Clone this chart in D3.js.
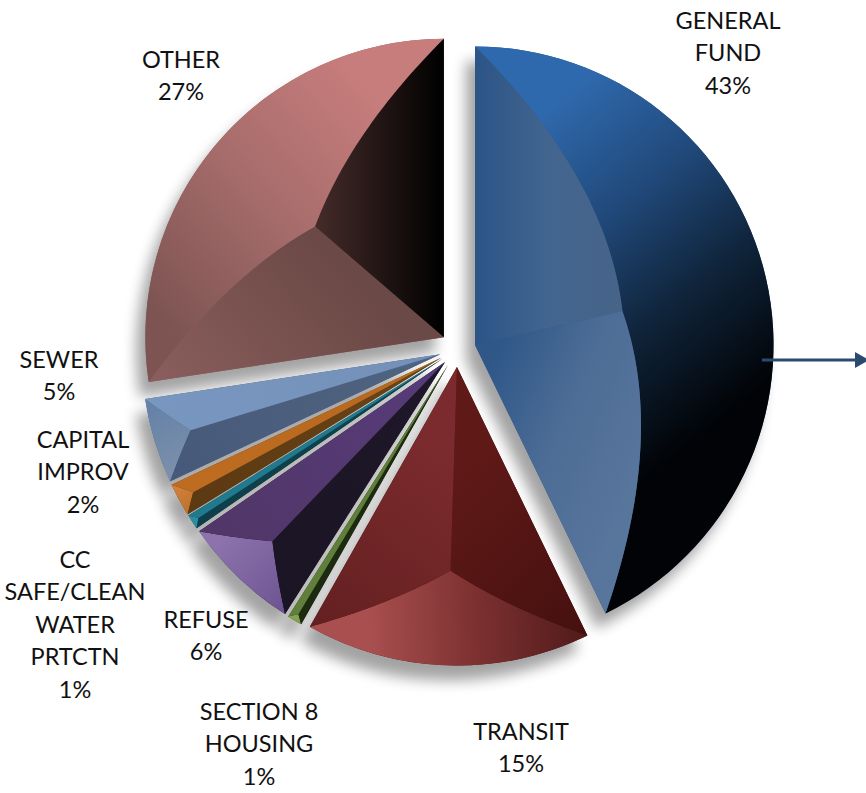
<!DOCTYPE html>
<html>
<head>
<meta charset="utf-8">
<title>Revenue by fund</title>
<script src="https://cdn.jsdelivr.net/npm/d3@7/dist/d3.min.js"></script>
<style>
  html, body { margin: 0; padding: 0; background: #fff; overflow: hidden; }
  svg { display: block; }
  text { font-family: Lato, "Open Sans", sans-serif; fill: #111; }
</style>
</head>
<body>
<svg id="chart" width="866" height="793"></svg>
<script>
// Fund shares, clockwise from twelve o'clock. Labels show them rounded to a whole percent.
const categories = ["General Fund", "Transit", "Section 8 Housing", "Refuse",
                    "CC Safe/Clean Water Prtctn", "Capital Improv", "Sewer", "Other"];
const shares = [42.8, 15.4, 0.8, 6.4, 0.8, 1.8, 4.6, 27.4];
const labelLines = [
  ["GENERAL", "FUND"], ["TRANSIT"], ["SECTION 8", "HOUSING"], ["REFUSE"],
  ["CC", "SAFE/CLEAN", "WATER", "PRTCTN"], ["CAPITAL", "IMPROV"], ["SEWER"], ["OTHER"]
];

// Layout
const width = 866, height = 793;
const center = { x: 457.5, y: 349 };
const radius = 298.5;
const explode = 18;
const lineHeight = 32.4;
const labelAnchors = [
  [728, 29], [521, 740], [259, 720], [206, 628], [75, 568], [83, 448], [59, 368], [181, 68]
];

// Facet paints per slice: [x1, y1, x2, y2, [colours...]] for the edge-a, edge-b and rim facets.
const facetPaints = [
  { a: [475, 200, 620, 200, ["#2c5486", "#426590", "#476488"]],
    b: [475, 400, 640, 470, ["#2f5788", "#4d6d96", "#58759c"]],
    rim: [545, 110, 765, 385, ["#2f69ad", "#214a7c", "#0f2339", "#010306"]] },
  { a: [590, 630, 452, 480, ["#45110f", "#5f1917"]],
    b: [450, 450, 320, 620, ["#7b2b2d", "#652021"]],
    rim: [370, 650, 585, 640, ["#a94f4f", "#7c3030", "#521b1b"]] },
  { a: [300, 620, 330, 640, ["#1c2a10", "#1f3012"]],
    b: [300, 610, 320, 620, ["#607f3a", "#5d7d38"]],
    rim: [290, 620, 305, 630, ["#86a552", "#789a48"]] },
  { a: [290, 610, 420, 400, ["#1a1424", "#1d1729"]],
    b: [210, 530, 420, 370, ["#513668", "#573b79"]],
    rim: [220, 540, 290, 610, ["#8d73ad", "#6c5290"]] },
  { a: [190, 520, 420, 370, ["#0f3e4a", "#12424f"]],
    b: [190, 520, 420, 370, ["#1f7a8e", "#1f7a8e"]],
    rim: [190, 520, 205, 532, ["#2b8da2", "#2b8da2"]] },
  { a: [190, 520, 420, 370, ["#5b3912", "#6a4318"]],
    b: [175, 490, 420, 370, ["#bd6c20", "#b8691f"]],
    rim: [175, 490, 195, 515, ["#cf7f38", "#b96f2a"]] },
  { a: [170, 480, 420, 370, ["#47597a", "#4f6480"]],
    b: [150, 410, 430, 360, ["#7897c0", "#7490b8"]],
    rim: [150, 410, 190, 480, ["#6682a8", "#7f93ab"]] },
  { a: [150, 390, 316, 240, ["#8b5f5d", "#6b4946"]],
    b: [320, 200, 444, 200, ["#422a28", "#000000"]],
    rim: [400, 120, 170, 330, ["#c77d7c", "#a56c6b", "#7d5452"]] }
];

const svg = d3.select("#chart");
const defs = svg.append("defs");

// Soft grey cast shadow thrown down and to the left of every slice
const blur = defs.append("filter").attr("id", "castShadow")
  .attr("x", "-30%").attr("y", "-30%").attr("width", "160%").attr("height", "160%");
blur.append("feGaussianBlur").attr("stdDeviation", 7);

const pie = d3.pie().value(d => d).sort(null);
const slices = pie(shares).map((d, i) => {
  const mid = (d.startAngle + d.endAngle) / 2;
  return {
    ...d, i, mid,
    ax: center.x + explode * Math.sin(mid),
    ay: center.y - explode * Math.cos(mid)
  };
});

const arc = d3.arc().innerRadius(0).outerRadius(radius);

// The ridge between a straight edge and the rim sits equally far from both
function ridgePoints(s, from, to) {
  const n = 48;
  return d3.range(n + 1).map(k => {
    const t = from + (to - from) * k / n;
    const phi = Math.min(t - s.startAngle, s.endAngle - t);
    return polar(s, t, radius / (1 + Math.sin(phi)));
  });
}
function rimPoints(s, from, to) {
  const n = 64;
  return d3.range(n + 1).map(k => polar(s, from + (to - from) * k / n, radius));
}
function polar(s, t, r) {
  return [s.ax + r * Math.sin(t), s.ay - r * Math.cos(t)];
}
const outline = d3.line().curve(d3.curveLinearClosed);

function gradient(id, spec) {
  const g = defs.append("linearGradient").attr("id", id)
    .attr("gradientUnits", "userSpaceOnUse")
    .attr("x1", spec[0]).attr("y1", spec[1]).attr("x2", spec[2]).attr("y2", spec[3]);
  spec[4].forEach((c, k, all) => g.append("stop")
    .attr("offset", k / (all.length - 1)).attr("stop-color", c));
  return `url(#${id})`;
}

// Shadows go first so every slice stays crisp on top of them
svg.append("g").selectAll("path").data(slices).join("path")
  .attr("d", arc)
  .attr("transform", s => `translate(${s.ax - 9},${s.ay + 15})`)
  .attr("fill", "#000").attr("opacity", 0.36)
  .attr("filter", "url(#castShadow)");

const sliceGroups = svg.append("g").selectAll("g").data(slices).join("g")
  .attr("data-category", s => categories[s.i]);

sliceGroups.append("path")
  .attr("d", arc)
  .attr("transform", s => `translate(${s.ax},${s.ay})`)
  .attr("fill", s => facetPaints[s.i].a[4][0]);

sliceGroups.each(function (s) {
  const g = d3.select(this);
  const paint = facetPaints[s.i];
  const apex = [s.ax, s.ay];
  const faces = {
    rim: [...rimPoints(s, s.startAngle, s.endAngle), ...ridgePoints(s, s.endAngle, s.startAngle)],
    a: [apex, ...ridgePoints(s, s.startAngle, s.mid)],
    b: [apex, ...ridgePoints(s, s.mid, s.endAngle)]
  };
  Object.keys(faces).forEach(name => {
    g.append("path")
      .attr("d", outline(faces[name]))
      .attr("fill", gradient(`slice${s.i}-${name}`, paint[name]));
  });
});

// Callout arrow leaving the general fund slice
const arrowColor = "#2a4a70";
svg.append("line")
  .attr("x1", 762).attr("x2", 858).attr("y1", 360).attr("y2", 360)
  .attr("stroke", arrowColor).attr("stroke-width", 3.2);
svg.append("path")
  .attr("d", d3.line()([[855, 352], [869, 360], [855, 368]]))
  .attr("fill", arrowColor);

// Category labels, each followed by its rounded share
const labels = svg.append("g").selectAll("text").data(slices).join("text")
  .attr("text-anchor", "middle")
  .attr("font-size", 23.5)
  .attr("transform", s => `translate(${labelAnchors[s.i][0]},${labelAnchors[s.i][1]})`);
labels.selectAll("tspan")
  .data(s => [...labelLines[s.i], `${Math.round(s.value)}%`])
  .join("tspan")
  .attr("x", 0)
  .attr("y", (d, k) => k * lineHeight)
  .text(d => d);
</script>
</body>
</html>
